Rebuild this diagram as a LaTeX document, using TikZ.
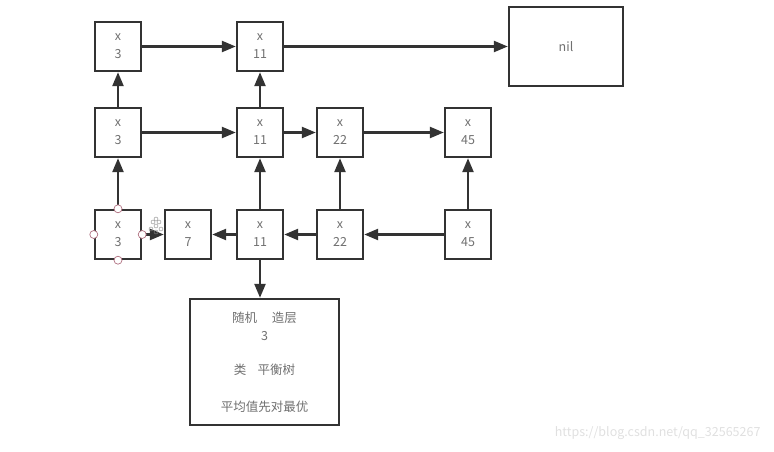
\documentclass[tikz,border=0pt]{standalone}
\usepackage{fontspec}
\setmainfont{Noto Sans CJK SC}
\usetikzlibrary{arrows.meta}
\definecolor{edge}{HTML}{333333}
\definecolor{txt}{HTML}{707070}
\definecolor{handle}{HTML}{B07080}
\begin{document}
\begin{tikzpicture}[x=1pt,y=-1pt,
  box/.style={draw=edge,line width=2.4pt,fill=white,inner sep=0pt,text=txt,align=center,
    font=\fontsize{12.5}{18}\selectfont},
  small/.style={box,minimum width=46pt,minimum height=49pt},
  link/.style={draw=edge,line width=2.4pt,-{Triangle[length=14pt,width=11pt]}},
  hnd/.style={circle,draw=handle,fill=white,line width=0.7pt,inner sep=0pt,minimum size=8pt}]
\useasboundingbox (0,0) rectangle (774,452);
% top row
\node[small] (t3) at (118,46.5) {x\\3};
\node[small] (t11) at (260,46.5) {x\\11};
\node[box,minimum width=114pt,minimum height=79pt] (nil) at (566,46.5) {nil};
% middle row
\node[small] (m3) at (118,132.5) {x\\3};
\node[small] (m11) at (260,132.5) {x\\11};
\node[small] (m22) at (340,132.5) {x\\22};
\node[small] (m45) at (468,132.5) {x\\45};
% bottom row
\node[small] (b3) at (118,234.5) {x\\3};
\node[small] (b7) at (188,234.5) {x\\7};
\node[small] (b11) at (260,234.5) {x\\11};
\node[small] (b22) at (340,234.5) {x\\22};
\node[small] (b45) at (468,234.5) {x\\45};
% big box
\node[box,minimum width=149pt,minimum height=126pt,
  font=\fontsize{12.5}{16}\selectfont] (big) at (264.5,362)
  {随机\hspace{1.2em}造层\\[2pt]3\\[18pt]类\hspace{0.9em}平衡树\\[21pt]平均值先对最优};
% horizontal links
\draw[link] (t3) -- (t11);
\draw[link] (t11) -- (nil);
\draw[link] (m3) -- (m11);
\draw[link] (m11) -- (m22);
\draw[link] (m22) -- (m45);
\draw[link] (b45) -- (b22);
\draw[link] (b22) -- (b11);
\draw[link] (b11) -- (b7);
\draw[link] (b3) -- (b7);
% vertical links
\draw[link] (b3) -- (m3);
\draw[link] (m3) -- (t3);
\draw[link] (b11) -- (m11);
\draw[link] (m11) -- (t11);
\draw[link] (b22) -- (m22);
\draw[link] (b45) -- (m45);
\draw[link] (b11.south) -- (b11.south |- big.north);
% selection handles
\node[hnd] at (b3.north) {};
\node[hnd] at (b3.south) {};
\node[hnd] at (b3.west) {};
\node[hnd] at (b3.east) {};
% move cursor
\foreach \dx/\dy in {0/0,-5/3,5/3,0/6,-3/-4,3/-4,0/-7} \node[circle,draw=edge!60,line width=0.4pt,inner sep=0pt,minimum size=4pt] at (156+\dx,226+\dy) {};
% watermark
\node[text=black!12,font=\fontsize{12.5}{12.5}\selectfont,anchor=east] (wm) at (764,433) {https://blog.csdn.net/qq\_32565267};
\end{tikzpicture}
\end{document}
